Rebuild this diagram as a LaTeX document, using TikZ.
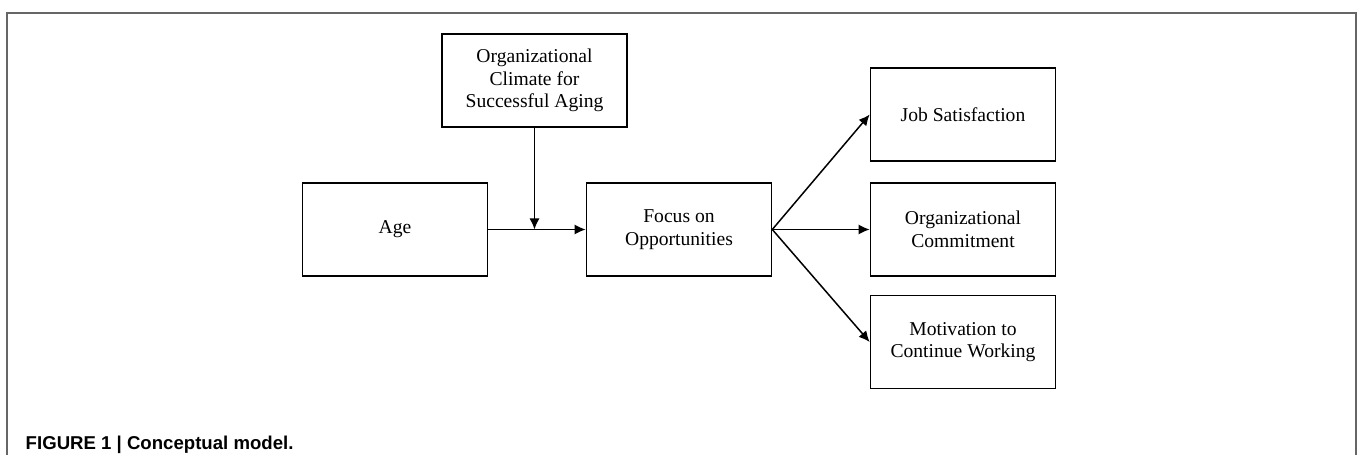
\documentclass[tikz,border=0pt]{standalone}
\usepackage{fontspec}
\setmainfont{Liberation Serif}
\newfontfamily\capfont{Liberation Sans}
\usepackage{tikz}
\usetikzlibrary{shapes, arrows.meta, positioning}
\tikzstyle{block} = [draw, fill=white, rectangle, line width=0.8pt, minimum width=92.5pt, minimum height=46.5pt, align=center, inner sep=2pt, font=\fontsize{9.8pt}{11.25pt}\selectfont]
\tikzstyle{frame} = [draw=black!60, line width=0.75pt]
\newcommand{\capt}[1]{\mbox{\capfont\bfseries #1}}

\begin{document}
\begin{tikzpicture}[node distance=142pt,>={Latex[length=5.5pt,width=5pt]}, line width=0.75pt]
    \useasboundingbox (-197.5pt,-112.75pt) rectangle (481pt,114.75pt);
    \draw[frame] (-194pt,-113pt) |- (480.5pt,108.25pt) -- (480.5pt,-113pt);
    \node[block] (age) at (0,0) {Age};
    \node[block, right of=age] (focus) {Focus on\\Opportunities};
    \coordinate[right of=age, node distance=69.75pt] (mid);
    \node[block, above of=mid, node distance=74.5pt] (climate) {Organizational\\Climate for\\Successful Aging};
    \node[block, right of=focus] (comm) {Organizational\\Commitment};
    \node[block, above of=comm, node distance=57.5pt] (job) {Job Satisfaction};
    \node[block, below of=comm, node distance=56.25pt] (motiv) {Motivation to\\Continue Working};
    \node[anchor=base west, inner sep=0pt, font=\fontsize{9.3pt}{11pt}\selectfont] (cap) at (-185pt,-109.9pt) {\capt{FIGURE 1 | Conceptual model.}};
    \draw[->] (age) -- (focus);
    \draw[->] (climate) -- (mid);
    \draw[->] (focus.east) -- (job.west);
    \draw[->] (focus.east) -- (comm.west);
    \draw[->] (focus.east) -- (motiv.west);
\end{tikzpicture}
\end{document}
